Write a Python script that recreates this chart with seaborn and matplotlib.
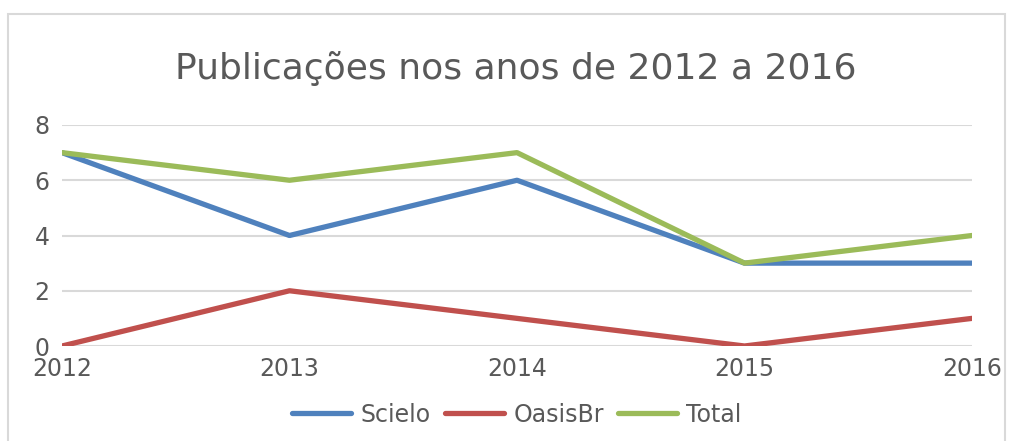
import matplotlib
matplotlib.use("Agg")
import matplotlib.pyplot as plt
import seaborn as sns
import pandas as pd
from matplotlib.patches import Rectangle

years = [2012, 2013, 2014, 2015, 2016]
scielo = [7, 4, 6, 3, 3]
oasisbr = [0, 2, 1, 0, 1]
total = [7, 6, 7, 3, 4]
series_names = ["Scielo", "OasisBr", "Total"]
colors = ["#4F81BD", "#C0504D", "#9BBB59"]

df = pd.DataFrame({
    "Ano": years * 3,
    "Valor": scielo + oasisbr + total,
    "Série": [series_names[0]] * 5 + [series_names[1]] * 5 + [series_names[2]] * 5,
})

sns.set_theme(style="white")
plt.rcParams['font.family'] = ['DejaVu Sans']

fig = plt.figure(figsize=(10.11, 4.41), dpi=100)
ax = fig.add_axes([62/1011, 1 - 346/441, (972-62)/1011, (346-125)/441])

sns.lineplot(data=df, x="Ano", y="Valor", hue="Série", palette=colors,
             linewidth=3.8, ax=ax, legend=True)

ax.set_xlim(2012, 2016)
ax.set_ylim(0, 8)
ax.set_yticks([0, 2, 4, 6, 8])
ax.set_xticks(years)
ax.set_xticklabels([str(y) for y in years])
ax.grid(axis="y", color="#D9D9D9", linewidth=1.5)
ax.set_axisbelow(True)
for s in ax.spines.values():
    s.set_visible(False)
ax.tick_params(axis="both", length=0, labelsize=17, colors="#595959")
ax.tick_params(axis="y", pad=9)
ax.tick_params(axis="x", pad=8)
ax.set_xlabel("")
ax.set_ylabel("")

fig.text(516/1011, 1 - 68/441, "Publicações nos anos de 2012 a 2016",
         ha="center", va="center", fontsize=26, color="#595959")

leg = ax.legend(loc="center", bbox_to_anchor=(0.5, -0.31), ncol=3,
                frameon=False, fontsize=17, handlelength=2.5,
                columnspacing=0.6, handletextpad=0.4)
for t in leg.get_texts():
    t.set_color("#595959")

fig.patches.append(Rectangle((8/1011, -0.1), (1005-8)/1011, 1.1 - 14/441,
                             transform=fig.transFigure, fill=False,
                             edgecolor="#D9D9D9", linewidth=1.5))

fig.savefig("out.png", dpi=100)
